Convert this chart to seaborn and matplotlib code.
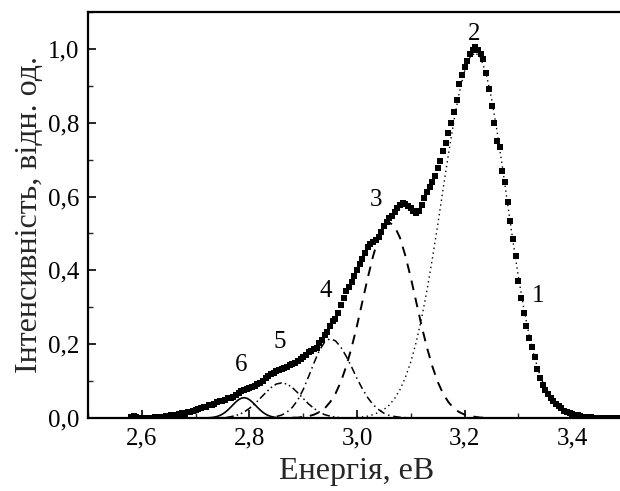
import matplotlib
matplotlib.use("Agg")
import matplotlib.pyplot as plt
from matplotlib.ticker import MultipleLocator, FuncFormatter
import seaborn as sns

# ---- measured spectrum (curve 1) ----
energy = [
    2.580, 2.585, 2.590, 2.595, 2.600, 2.605, 2.610, 2.615, 2.620, 2.625,
    2.630, 2.635, 2.640, 2.645, 2.650, 2.655, 2.660, 2.665, 2.670, 2.675,
    2.680, 2.685, 2.690, 2.695, 2.700, 2.705, 2.710, 2.715, 2.720, 2.725,
    2.730, 2.735, 2.740, 2.745, 2.750, 2.755, 2.760, 2.765, 2.770, 2.775,
    2.780, 2.785, 2.790, 2.795, 2.800, 2.805, 2.810, 2.815, 2.820, 2.825,
    2.830, 2.835, 2.840, 2.845, 2.850, 2.855, 2.860, 2.865, 2.870, 2.875,
    2.880, 2.885, 2.890, 2.895, 2.900, 2.905, 2.910, 2.915, 2.920, 2.925,
    2.930, 2.935, 2.940, 2.945, 2.950, 2.955, 2.960, 2.965, 2.970, 2.975,
    2.980, 2.985, 2.990, 2.995, 3.000, 3.005, 3.010, 3.015, 3.020, 3.025,
    3.030, 3.035, 3.040, 3.045, 3.050, 3.055, 3.060, 3.065, 3.070, 3.075,
    3.080, 3.085, 3.090, 3.095, 3.100, 3.105, 3.110, 3.115, 3.120, 3.125,
    3.130, 3.135, 3.140, 3.145, 3.150, 3.155, 3.160, 3.165, 3.170, 3.175,
    3.180, 3.185, 3.190, 3.195, 3.200, 3.205, 3.210, 3.215, 3.220, 3.225,
    3.230, 3.235, 3.240, 3.245, 3.250, 3.255, 3.260, 3.265, 3.270, 3.275,
    3.280, 3.285, 3.290, 3.295, 3.300, 3.305, 3.310, 3.315, 3.320, 3.325,
    3.330, 3.335, 3.340, 3.345, 3.350, 3.355, 3.360, 3.365, 3.370, 3.375,
    3.380, 3.385, 3.390, 3.395, 3.400, 3.405, 3.410, 3.415, 3.420, 3.425,
    3.430, 3.435, 3.440, 3.445, 3.450, 3.455, 3.460, 3.465, 3.470, 3.475,
    3.480, 3.485, 3.490, 3.495, 3.500,
]
intensity = [
    0.002, 0.006, 0.004, 0.001, 0.000, 0.000, 0.001, 0.000, 0.001, 0.002,
    0.001, 0.002, 0.004, 0.006, 0.005, 0.007, 0.009, 0.008, 0.011, 0.013,
    0.012, 0.016, 0.015, 0.019, 0.021, 0.024, 0.027, 0.029, 0.031, 0.034,
    0.036, 0.039, 0.042, 0.045, 0.047, 0.050, 0.053, 0.055, 0.058, 0.063,
    0.068, 0.072, 0.076, 0.078, 0.082, 0.085, 0.087, 0.091, 0.095, 0.101,
    0.108, 0.113, 0.118, 0.122, 0.126, 0.130, 0.132, 0.136, 0.139, 0.143,
    0.146, 0.150, 0.154, 0.160, 0.166, 0.172, 0.178, 0.181, 0.186, 0.190,
    0.202, 0.212, 0.224, 0.234, 0.250, 0.262, 0.268, 0.285, 0.305, 0.325,
    0.343, 0.356, 0.368, 0.385, 0.400, 0.418, 0.432, 0.448, 0.462, 0.472,
    0.478, 0.482, 0.490, 0.505, 0.520, 0.532, 0.541, 0.548, 0.558, 0.568,
    0.577, 0.582, 0.580, 0.575, 0.568, 0.560, 0.556, 0.560, 0.578, 0.596,
    0.612, 0.625, 0.640, 0.656, 0.676, 0.695, 0.722, 0.746, 0.772, 0.800,
    0.830, 0.862, 0.905, 0.930, 0.952, 0.967, 0.985, 0.998, 1.005, 0.998,
    0.985, 0.972, 0.935, 0.890, 0.845, 0.800, 0.750, 0.735, 0.670, 0.640,
    0.585, 0.535, 0.485, 0.440, 0.370, 0.325, 0.285, 0.250, 0.218, 0.192,
    0.166, 0.133, 0.108, 0.090, 0.075, 0.064, 0.053, 0.045, 0.038, 0.032,
    0.026, 0.020, 0.017, 0.014, 0.011, 0.009, 0.007, 0.005, 0.004, 0.003,
    0.002, 0.002, 0.001, 0.001, 0.000, 0.000, 0.000, 0.000, 0.000, 0.000,
    0.000, 0.000, 0.000, 0.000, 0.000,
]

# ---- component 2 (dotted) ----
e2 = [3.00, 3.01, 3.02, 3.03, 3.04, 3.05, 3.06, 3.07, 3.08, 3.09, 3.10,
      3.11, 3.12, 3.13, 3.14, 3.15, 3.16, 3.17, 3.18, 3.19, 3.20, 3.21,
      3.22, 3.23, 3.24, 3.25, 3.26, 3.27, 3.28, 3.29, 3.30, 3.31, 3.32,
      3.33, 3.34, 3.35, 3.36, 3.37, 3.38, 3.39, 3.40, 3.41, 3.42, 3.43,
      3.44, 3.45]
i2 = [0.002, 0.003, 0.005, 0.009, 0.015, 0.023, 0.035, 0.053, 0.077, 0.110,
      0.152, 0.205, 0.270, 0.345, 0.431, 0.523, 0.620, 0.715, 0.804, 0.881,
      0.940, 0.977, 0.990, 0.975, 0.933, 0.866, 0.780, 0.683, 0.580, 0.478,
      0.382, 0.297, 0.224, 0.164, 0.116, 0.080, 0.054, 0.035, 0.022, 0.013,
      0.008, 0.005, 0.003, 0.001, 0.001, 0.000]

# ---- component 3 (dashed) ----
e3 = [2.88, 2.89, 2.90, 2.91, 2.92, 2.93, 2.94, 2.95, 2.96, 2.97, 2.98,
      2.99, 3.00, 3.01, 3.02, 3.03, 3.04, 3.05, 3.06, 3.07, 3.08, 3.09,
      3.10, 3.11, 3.12, 3.13, 3.14, 3.15, 3.16, 3.17, 3.18, 3.19, 3.20,
      3.21, 3.22, 3.23, 3.24]
i3 = [0.001, 0.001, 0.003, 0.005, 0.009, 0.016, 0.026, 0.043, 0.066, 0.098,
      0.140, 0.191, 0.250, 0.315, 0.380, 0.439, 0.488, 0.519, 0.530, 0.519,
      0.488, 0.439, 0.380, 0.315, 0.250, 0.191, 0.140, 0.098, 0.066, 0.043,
      0.026, 0.016, 0.009, 0.005, 0.003, 0.001, 0.001]

# ---- component 4 (dash-dot) ----
e4 = [2.82, 2.83, 2.84, 2.85, 2.86, 2.87, 2.88, 2.89, 2.90, 2.91, 2.92,
      2.93, 2.94, 2.95, 2.96, 2.97, 2.98, 2.99, 3.00, 3.01, 3.02, 3.03,
      3.04, 3.05, 3.06, 3.07, 3.08, 3.09, 3.10]
i4 = [0.000, 0.001, 0.002, 0.004, 0.008, 0.016, 0.029, 0.049, 0.077, 0.112,
      0.149, 0.183, 0.206, 0.215, 0.209, 0.192, 0.167, 0.138, 0.107, 0.079,
      0.055, 0.036, 0.023, 0.013, 0.007, 0.004, 0.002, 0.001, 0.000]

# ---- component 5 (dash-dot-dot) ----
e5 = [2.72, 2.73, 2.74, 2.75, 2.76, 2.77, 2.78, 2.79, 2.80, 2.81, 2.82,
      2.83, 2.84, 2.85, 2.86, 2.87, 2.88, 2.89, 2.90, 2.91, 2.92, 2.93,
      2.94, 2.95, 2.96, 2.97, 2.98]
i5 = [0.000, 0.000, 0.000, 0.001, 0.002, 0.005, 0.009, 0.016, 0.026, 0.038,
      0.053, 0.068, 0.082, 0.092, 0.095, 0.092, 0.082, 0.068, 0.053, 0.038,
      0.026, 0.016, 0.009, 0.005, 0.002, 0.001, 0.000]

# ---- component 6 (solid) ----
e6 = [2.720, 2.725, 2.730, 2.735, 2.740, 2.745, 2.750, 2.755, 2.760, 2.765,
      2.770, 2.775, 2.780, 2.785, 2.790, 2.795, 2.800, 2.805, 2.810, 2.815,
      2.820, 2.825, 2.830, 2.835, 2.840, 2.845, 2.850, 2.855, 2.860]
i6 = [0.0004, 0.0007, 0.0013, 0.0024, 0.0042, 0.0068, 0.0105, 0.0155, 0.0217,
      0.0288, 0.0364, 0.0436, 0.0496, 0.0536, 0.0550, 0.0536, 0.0496, 0.0436,
      0.0364, 0.0288, 0.0217, 0.0155, 0.0105, 0.0068, 0.0042, 0.0024, 0.0013,
      0.0007, 0.0004]

labels = ["1", "2", "3", "4", "5", "6"]
label_x = [3.337, 3.218, 3.036, 2.942, 2.857, 2.784]
label_y = [0.330, 1.040, 0.590, 0.345, 0.207, 0.144]

x_ticks = [2.6, 2.8, 3.0, 3.2, 3.4]
y_ticks = [0.0, 0.2, 0.4, 0.6, 0.8, 1.0]

sns.set_theme(style="ticks")
plt.rcParams["font.family"] = ["Liberation Serif", "DejaVu Serif"]

fig = plt.figure(figsize=(6.2, 4.91), dpi=100)
ax = fig.add_axes([0.1419, 0.1487, 0.8678, 0.8269])

# components
sns.lineplot(x=e2, y=i2, ax=ax, color="black", lw=1.0, linestyle=(0, (1, 2.5)))
sns.lineplot(x=e3, y=i3, ax=ax, color="black", lw=1.4, linestyle=(0, (5, 4)))
sns.lineplot(x=e4, y=i4, ax=ax, color="black", lw=1.1, linestyle=(0, (5, 2.5, 1, 2.5)))
sns.lineplot(x=e5, y=i5, ax=ax, color="black", lw=1.1,
             linestyle=(0, (5, 2, 1, 2, 1, 2)))
sns.lineplot(x=e6, y=i6, ax=ax, color="black", lw=1.2, linestyle="-")

# measured data
sns.scatterplot(x=energy, y=intensity, ax=ax, marker="s", s=14,
                color="black", linewidth=0, zorder=5)

for t, lx, ly in zip(labels, label_x, label_y):
    ax.text(lx, ly, t, fontsize=18, ha="center", va="center", color="black")

ax.set_xlim(2.5, 3.5)
ax.set_ylim(0, 1.1)
ax.set_xticks(x_ticks)
ax.set_yticks(y_ticks)
ax.xaxis.set_minor_locator(MultipleLocator(0.1))
ax.yaxis.set_minor_locator(MultipleLocator(0.1))
fmt = FuncFormatter(lambda v, p: f"{v:.1f}".replace(".", ","))
ax.xaxis.set_major_formatter(fmt)
ax.yaxis.set_major_formatter(fmt)
ax.tick_params(which="major", direction="in", length=6, width=1.2,
               labelsize=18, colors="black", pad=6)
ax.tick_params(axis="x", which="major", pad=7)
ax.tick_params(which="minor", direction="in", length=3.5, width=1.0)
ax.tick_params(top=False, right=False, which="both")
for s in ax.spines.values():
    s.set_linewidth(1.6)
    s.set_color("black")

ax.set_xlabel("Енергія, еВ", fontsize=23, labelpad=5)
ax.set_ylabel("Інтенсивність, відн. од.", fontsize=23, labelpad=3)

fig.savefig("out.png", dpi=100)
